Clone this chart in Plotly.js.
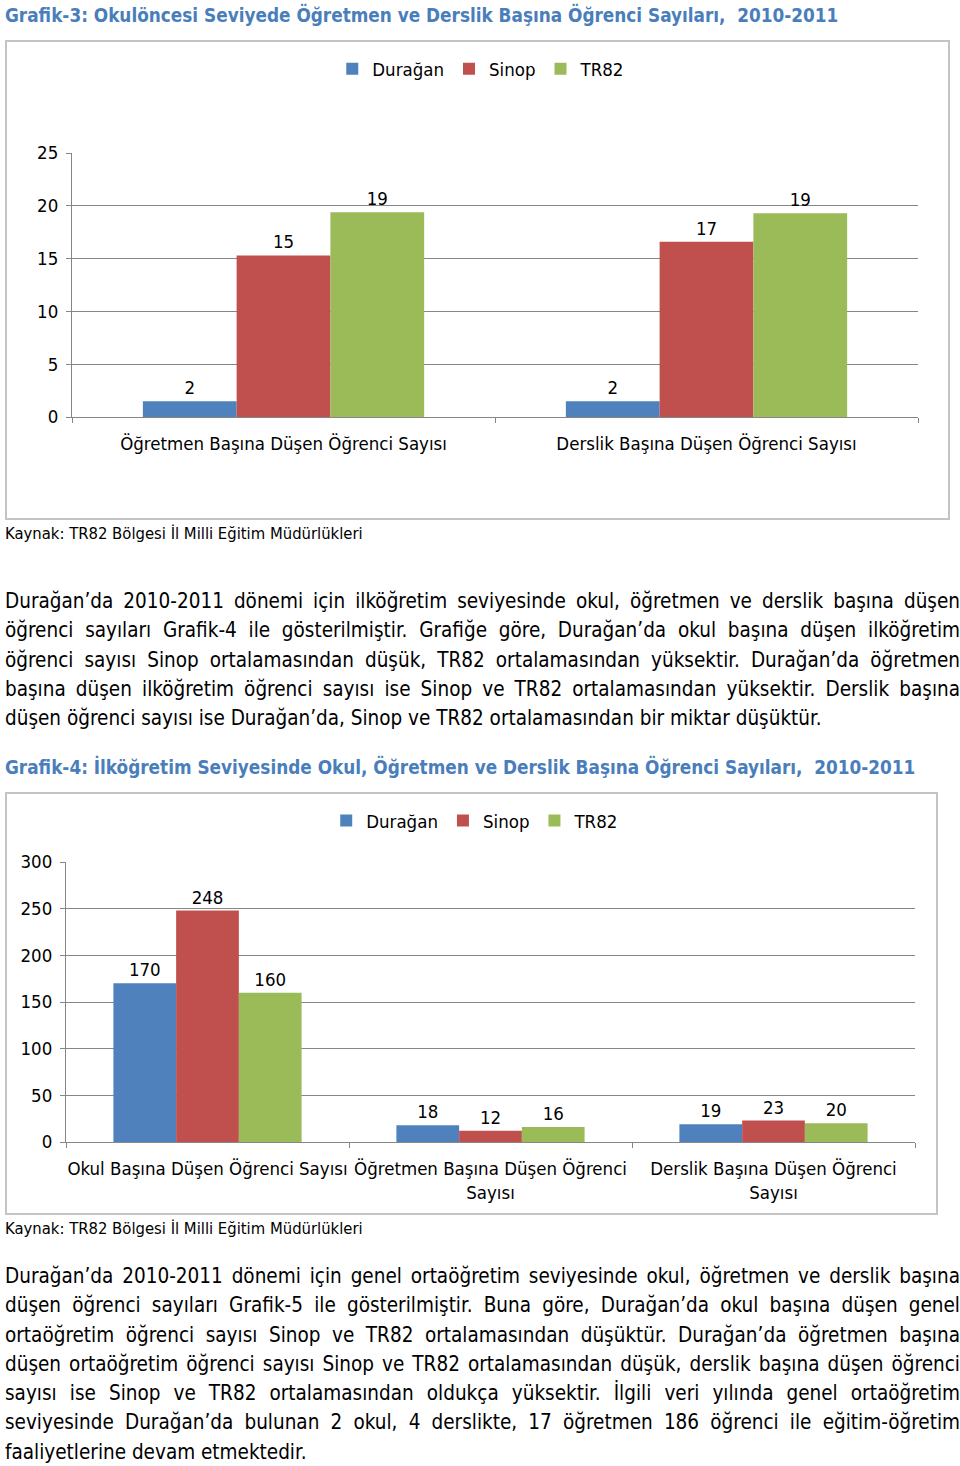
<!DOCTYPE html>
<html>
<head>
<meta charset="utf-8">
<script src="https://cdn.plot.ly/plotly-3.0.1.min.js"></script>
<style>
  body { margin: 0; background: #fff; font-family: "DejaVu Sans Condensed", "DejaVu Sans", sans-serif; color: #000; }
  #page { position: relative; width: 960px; height: 1466px; overflow: hidden; }
  .title { position: absolute; left: 5px; font-size: 18.8px; font-weight: bold; color: #4a7ebb; white-space: nowrap; }
  .box { position: absolute; border: 2px solid #c4c4c4; box-sizing: border-box; }
  .src { position: absolute; left: 5px; font-size: 16.5px; white-space: nowrap; }
  .para { position: absolute; left: 5px; width: 955px; font-size: 20.5px; line-height: 29.3px; }
  .para div { text-align: justify; text-align-last: justify; white-space: nowrap; }
  .para div.last { text-align-last: left; }
</style>
</head>
<body>
<div id="page">
  <div class="title" style="top:5px;">Grafik-3: Okulöncesi Seviyede Öğretmen ve Derslik Başına Öğrenci Sayıları,&nbsp; 2010-2011</div>
  <div class="box" style="left:5px; top:40px; width:945px; height:480px;"><div id="chart1"></div></div>
  <div class="src" style="top:524px;">Kaynak: TR82 Bölgesi İl Milli Eğitim Müdürlükleri</div>

  <div class="para" style="top:587px;">
    <div>Durağan’da 2010-2011 dönemi için ilköğretim seviyesinde okul, öğretmen ve derslik başına düşen</div>
    <div>öğrenci sayıları Grafik-4 ile gösterilmiştir. Grafiğe göre, Durağan’da okul başına düşen ilköğretim</div>
    <div>öğrenci sayısı Sinop ortalamasından düşük, TR82 ortalamasından yüksektir. Durağan’da öğretmen</div>
    <div>başına düşen ilköğretim öğrenci sayısı ise Sinop ve TR82 ortalamasından yüksektir. Derslik başına</div>
    <div class="last">düşen öğrenci sayısı ise Durağan’da, Sinop ve TR82 ortalamasından bir miktar düşüktür.</div>
  </div>

  <div class="title" style="top:757px;">Grafik-4: İlköğretim Seviyesinde Okul, Öğretmen ve Derslik Başına Öğrenci Sayıları,&nbsp; 2010-2011</div>
  <div class="box" style="left:5px; top:792px; width:933px; height:423px;"><div id="chart2"></div></div>
  <div class="src" style="top:1219px;">Kaynak: TR82 Bölgesi İl Milli Eğitim Müdürlükleri</div>

  <div class="para" style="top:1262px;">
    <div>Durağan’da 2010-2011 dönemi için genel ortaöğretim seviyesinde okul, öğretmen ve derslik başına</div>
    <div>düşen öğrenci sayıları Grafik-5 ile gösterilmiştir. Buna göre, Durağan’da okul başına düşen genel</div>
    <div>ortaöğretim öğrenci sayısı Sinop ve TR82 ortalamasından düşüktür. Durağan’da öğretmen başına</div>
    <div>düşen ortaöğretim öğrenci sayısı Sinop ve TR82 ortalamasından düşük, derslik başına düşen öğrenci</div>
    <div>sayısı ise Sinop ve TR82 ortalamasından oldukça yüksektir. İlgili veri yılında genel ortaöğretim</div>
    <div>seviyesinde Durağan’da bulunan 2 okul, 4 derslikte, 17 öğretmen 186 öğrenci ile eğitim-öğretim</div>
    <div class="last">faaliyetlerine devam etmektedir.</div>
  </div>
</div>

<script>
// Grafik-3 data (okulöncesi)
const categories1 = ['Öğretmen Başına Düşen Öğrenci Sayısı', 'Derslik Başına Düşen Öğrenci Sayısı'];
const duragan1 = [1.5, 1.5];
const sinop1 = [15.3, 16.6];
const tr821 = [19.4, 19.3];

// Grafik-4 data (ilköğretim)
const categories2 = ['Okul Başına Düşen Öğrenci Sayısı', 'Öğretmen Başına Düşen Öğrenci<br>Sayısı', 'Derslik Başına Düşen Öğrenci<br>Sayısı'];
const duragan2 = [170, 18, 19];
const sinop2 = [248, 12, 23];
const tr822 = [160, 16, 20];

const seriesNames = ['Durağan', 'Sinop', 'TR82'];
const colors = ['#4f81bd', '#c0504d', '#9bbb59'];
const fontFamily = '"DejaVu Sans Condensed", "DejaVu Sans", sans-serif';

function makeTraces(cats, seriesValues) {
    return seriesValues.map((vals, i) => ({
        type: 'bar',
        name: seriesNames[i],
        x: cats,
        y: vals,
        marker: { color: colors[i] },
        texttemplate: '%{y:.0f}',
        textposition: 'outside',
        textfont: { size: 18.5, color: '#000', family: fontFamily },
        cliponaxis: false,
        hoverinfo: 'none'
    }));
}

function makeLayout(w, h, margin, yRange, dtick, legendY) {
    return {
        width: w,
        height: h,
        margin: margin,
        paper_bgcolor: '#fff',
        plot_bgcolor: '#fff',
        font: { family: fontFamily, size: 18.5, color: '#000' },
        barmode: 'group',
        bargap: 0.335,
        bargroupgap: 0,
        showlegend: true,
        legend: {
            orientation: 'h',
            xref: 'container',
            yref: 'container',
            x: 0.504,
            xanchor: 'center',
            y: legendY,
            yanchor: 'middle',
            font: { size: 18.5, family: fontFamily },
            itemwidth: 30,
            traceorder: 'normal'
        },
        xaxis: {
            showline: true,
            linecolor: '#868686',
            linewidth: 1,
            ticks: 'outside',
            tickson: 'boundaries',
            ticklen: 5,
            tickcolor: '#868686',
            ticklabelstandoff: 10,
            tickangle: 0,
            automargin: false,
            showgrid: false,
            tickfont: { size: 18.5, family: fontFamily }
        },
        yaxis: {
            range: yRange,
            dtick: dtick,
            showline: true,
            linecolor: '#868686',
            ticks: 'outside',
            ticklen: 5,
            tickcolor: '#868686',
            ticklabelstandoff: 4,
            automargin: false,
            gridcolor: '#868686',
            zeroline: false,
            tickfont: { size: 18.5, family: fontFamily }
        }
    };
}

const config = { displayModeBar: false, staticPlot: true };

Plotly.newPlot('chart1',
    makeTraces(categories1, [duragan1, sinop1, tr821]),
    makeLayout(941, 476, { l: 65, r: 30, t: 111, b: 101 }, [0, 25], 5, 0.943),
    config);

Plotly.newPlot('chart2',
    makeTraces(categories2, [duragan2, sinop2, tr822]),
    makeLayout(929, 419, { l: 59, r: 21, t: 68, b: 71 }, [0, 300], 50, 0.9356),
    config);
</script>
</body>
</html>
